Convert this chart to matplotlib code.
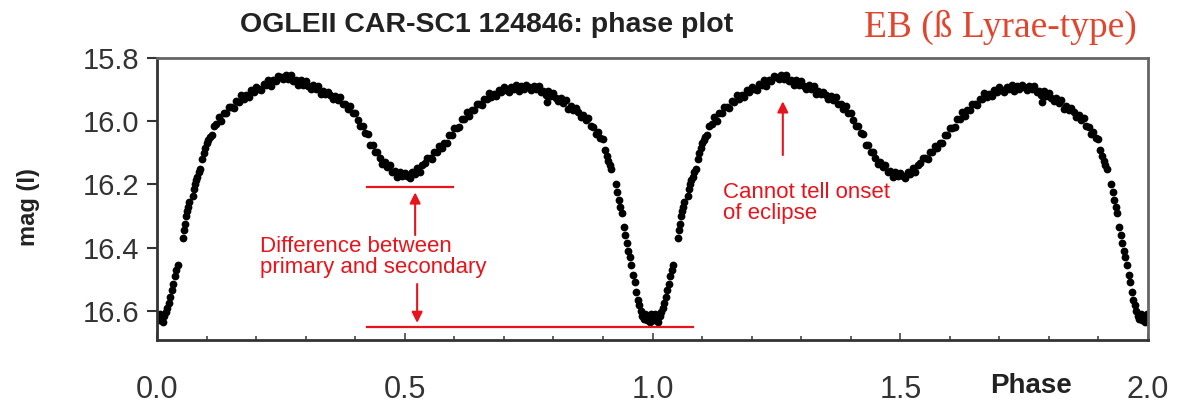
import numpy as np
import matplotlib.pyplot as plt
from matplotlib.ticker import MultipleLocator, FormatStrFormatter

plt.rcParams["font.family"] = ["Liberation Sans", "DejaVu Sans"]

# =========================
# light curve, one cycle
# =========================

# primary egress
phase_egress = [0.001, 0.004, 0.006, 0.009, 0.012, 0.015, 0.018, 0.021, 0.024, 0.027,
                0.030, 0.033, 0.036, 0.039, 0.042, 0.052, 0.054, 0.056, 0.058, 0.060,
                0.062, 0.064, 0.072, 0.074, 0.076, 0.078, 0.081, 0.084, 0.087, 0.091,
                0.094, 0.097, 0.100, 0.103, 0.106]
mag_egress = [16.620, 16.630, 16.610, 16.625, 16.635, 16.615, 16.605, 16.590, 16.575, 16.555,
              16.535, 16.515, 16.490, 16.470, 16.455, 16.370, 16.345, 16.325, 16.300, 16.285,
              16.270, 16.255, 16.235, 16.215, 16.200, 16.185, 16.175, 16.160, 16.150, 16.120,
              16.100, 16.085, 16.070, 16.060, 16.050]

# first maximum
phase_max1 = [0.110, 0.115, 0.120, 0.125, 0.130, 0.135, 0.140, 0.145, 0.150, 0.155,
              0.160, 0.165, 0.170, 0.175, 0.180, 0.185, 0.190, 0.195, 0.200, 0.205,
              0.210, 0.215, 0.220, 0.225, 0.230, 0.235, 0.240, 0.245, 0.250, 0.255,
              0.260, 0.265, 0.270, 0.275, 0.280, 0.285, 0.290, 0.295, 0.300, 0.305,
              0.310, 0.315, 0.320, 0.325, 0.330, 0.335, 0.340, 0.345, 0.350, 0.355,
              0.360, 0.365, 0.370, 0.375, 0.380, 0.385, 0.390, 0.395, 0.400]
mag_max1 = [16.043, 16.014, 16.010, 15.987, 15.998, 15.975, 15.975, 15.954, 15.955, 15.957,
            15.936, 15.938, 15.918, 15.930, 15.918, 15.924, 15.902, 15.908, 15.891, 15.897,
            15.900, 15.882, 15.886, 15.870, 15.887, 15.869, 15.873, 15.856, 15.861, 15.868,
            15.855, 15.865, 15.854, 15.874, 15.870, 15.884, 15.870, 15.884, 15.874, 15.887,
            15.897, 15.886, 15.897, 15.888, 15.913, 15.903, 15.915, 15.906, 15.918, 15.931,
            15.921, 15.933, 15.924, 15.946, 15.944, 15.962, 15.953, 15.974, 15.973]

# secondary eclipse
phase_sec = [0.405, 0.410, 0.415, 0.420, 0.425, 0.430, 0.435, 0.440, 0.445, 0.450,
             0.455, 0.460, 0.465, 0.470, 0.475, 0.480, 0.485, 0.490, 0.495, 0.500,
             0.505, 0.510, 0.515, 0.520, 0.525, 0.530, 0.535, 0.540, 0.545, 0.550,
             0.555, 0.560, 0.565, 0.570, 0.575, 0.580, 0.585, 0.590, 0.595, 0.600,
             0.605, 0.610, 0.615, 0.620]
mag_sec = [15.996, 16.016, 16.016, 16.038, 16.040, 16.075, 16.075, 16.097, 16.096, 16.116,
           16.135, 16.130, 16.145, 16.137, 16.161, 16.159, 16.175, 16.161, 16.174, 16.163,
           16.173, 16.178, 16.162, 16.166, 16.148, 16.161, 16.137, 16.133, 16.117, 16.117,
           16.119, 16.097, 16.098, 16.077, 16.086, 16.069, 16.070, 16.043, 16.044, 16.021,
           16.021, 16.018, 15.994, 15.992]

# second maximum
phase_max2 = [0.625, 0.630, 0.635, 0.640, 0.645, 0.650, 0.655, 0.660, 0.665, 0.670,
              0.675, 0.680, 0.685, 0.690, 0.695, 0.700, 0.705, 0.710, 0.715, 0.720,
              0.725, 0.730, 0.735, 0.740, 0.745, 0.750, 0.755, 0.760, 0.765, 0.770,
              0.775, 0.780, 0.785, 0.790, 0.795, 0.800, 0.805, 0.810, 0.815, 0.820,
              0.825, 0.830, 0.835, 0.840, 0.845, 0.850, 0.855, 0.860, 0.865, 0.870,
              0.875, 0.880, 0.885, 0.890, 0.895, 0.900, 0.787]
mag_max2 = [15.972, 15.985, 15.964, 15.965, 15.945, 15.946, 15.949, 15.929, 15.931, 15.912,
            15.924, 15.913, 15.920, 15.900, 15.908, 15.893, 15.901, 15.906, 15.891, 15.898,
            15.885, 15.905, 15.890, 15.897, 15.884, 15.892, 15.902, 15.889, 15.899, 15.887,
            15.907, 15.903, 15.918, 15.905, 15.920, 15.911, 15.925, 15.937, 15.928, 15.941,
            15.934, 15.960, 15.951, 15.965, 15.958, 15.972, 15.987, 15.980, 15.995, 15.989,
            16.016, 16.019, 16.040, 16.033, 16.054, 16.056, 15.940]

# primary ingress
phase_ingress = [0.904, 0.908, 0.911, 0.914, 0.917, 0.926, 0.929, 0.932, 0.935, 0.938,
                 0.942, 0.945, 0.948, 0.951, 0.954, 0.957, 0.961, 0.964, 0.967, 0.970,
                 0.973, 0.976, 0.979, 0.982, 0.985, 0.988, 0.991, 0.994, 0.997]
mag_ingress = [16.090, 16.110, 16.125, 16.140, 16.150, 16.200, 16.225, 16.250, 16.270, 16.290,
               16.335, 16.360, 16.385, 16.410, 16.430, 16.455, 16.485, 16.510, 16.540, 16.565,
               16.580, 16.600, 16.615, 16.625, 16.610, 16.630, 16.620, 16.635, 16.610]

phase = np.concatenate([phase_egress, phase_max1, phase_sec, phase_max2, phase_ingress])
mag = np.concatenate([mag_egress, mag_max1, mag_sec, mag_max2, mag_ingress])

# phase plot shows two cycles
phase_all = np.concatenate([phase, phase + 1.0])
mag_all = np.concatenate([mag, mag])

yticks = [15.8, 16.0, 16.2, 16.4, 16.6]
xticks = [0.0, 0.5, 1.0, 1.5, 2.0]

red = "#e8141c"

# =========================
# plot
# =========================

fig = plt.figure(figsize=(11.77, 4.03), dpi=100)
ax = fig.add_axes([157 / 1177, 1 - 340 / 403, (1148 - 157) / 1177, (340 - 58) / 403])

ax.plot(phase_all, mag_all, "o", color="black", ms=5.6, mec="none")

ax.set_xlim(0, 2)
ax.set_ylim(16.692, 15.8)

ax.set_yticks(yticks)
ax.yaxis.set_major_formatter(FormatStrFormatter("%.1f"))
ax.set_xticks(xticks)
ax.xaxis.set_major_formatter(FormatStrFormatter("%.1f"))
ax.xaxis.set_minor_locator(MultipleLocator(0.1))

ax.tick_params(axis="y", direction="out", length=7, width=1.5, labelsize=21,
               pad=6, color="#333333", labelcolor="#333333")
ax.tick_params(axis="x", which="major", direction="in", length=5, width=1.2,
               labelsize=22, pad=25, color="#444444", labelcolor="#333333")
ax.tick_params(axis="x", which="minor", direction="in", length=3, width=1.2,
               color="#444444")

for s in ["left", "bottom"]:
    ax.spines[s].set_color("#333333")
    ax.spines[s].set_linewidth(2)
for s in ["top", "right"]:
    ax.spines[s].set_color("#666666")
    ax.spines[s].set_linewidth(2)

# annotations
arr = dict(arrowstyle="-|>", color=red, lw=1.5, mutation_scale=16, shrinkA=0, shrinkB=0)
ax.plot([0.424, 0.597], [16.208, 16.208], color=red, lw=1.6)
ax.plot([0.424, 1.082], [16.651, 16.651], color=red, lw=1.6)
ax.annotate("", xy=(0.521, 16.225), xytext=(0.521, 16.36), arrowprops=arr)
ax.annotate("", xy=(0.525, 16.638), xytext=(0.525, 16.515), arrowprops=arr)
ax.text(0.208, 16.428, "Difference between\nprimary and secondary", color=red,
        fontsize=16, ha="left", va="center", linespacing=1.0)

ax.annotate("", xy=(1.263, 15.937), xytext=(1.263, 16.107), arrowprops=arr)
ax.text(1.142, 16.258, "Cannot tell onset\nof eclipse", color=red,
        fontsize=16, ha="left", va="center", linespacing=1.0)

# titles and labels
fig.text(487 / 1177, 1 - 32 / 403, "OGLEII CAR-SC1 124846: phase plot",
         fontsize=20.5, fontweight="bold", color="#222222", ha="center", va="baseline")
fig.text(864 / 1177, 1 - 37 / 403, "EB (ß Lyrae-type)", family="Liberation Serif",
         fontsize=27, color="#e0452d", ha="left", va="baseline")
fig.text(28 / 1177, 1 - 207 / 403, "mag (I)", rotation=90, fontsize=17,
         fontweight="bold", color="#222222", ha="center", va="center")
fig.text(1031 / 1177, 1 - 393 / 403, "Phase", fontsize=20, fontweight="bold",
         color="#222222", ha="center", va="baseline")

fig.savefig("out.png", dpi=100)
